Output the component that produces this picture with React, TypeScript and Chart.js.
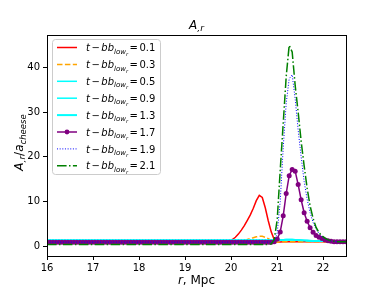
import React, { useEffect, useRef } from "react";
import { Chart, registerables } from "chart.js";

Chart.register(...registerables);

// r grid, Mpc
const rValues = [
  16.0, 16.065, 16.13, 16.195, 16.26, 16.325, 16.39, 16.455, 16.52, 16.585,
  16.65, 16.715, 16.78, 16.845, 16.91, 16.975, 17.04, 17.105, 17.17, 17.235,
  17.3, 17.365, 17.43, 17.495, 17.56, 17.625, 17.69, 17.755, 17.82, 17.885,
  17.95, 18.015, 18.08, 18.145, 18.21, 18.275, 18.34, 18.405, 18.47, 18.535,
  18.6, 18.665, 18.73, 18.795, 18.86, 18.925, 18.99, 19.055, 19.12, 19.185,
  19.25, 19.315, 19.38, 19.445, 19.51, 19.575, 19.64, 19.705, 19.77, 19.835,
  19.9, 19.965, 20.03, 20.095, 20.16, 20.225, 20.29, 20.355, 20.42, 20.485,
  20.55, 20.615, 20.68, 20.745, 20.81, 20.875, 20.94, 21.005, 21.07, 21.135,
  21.2, 21.265, 21.33, 21.395, 21.46, 21.525, 21.59, 21.655, 21.72, 21.785,
  21.85, 21.915, 21.98, 22.045, 22.11, 22.175, 22.24, 22.305, 22.37, 22.435,
  22.5,
];

const yT01 = [
  0.9, 0.9, 0.9, 0.9, 0.9, 0.9, 0.9, 0.9, 0.9, 0.9,
  0.9, 0.9, 0.9, 0.9, 0.9, 0.9, 0.9, 0.9, 0.9, 0.9,
  0.9, 0.9, 0.9, 0.9, 0.9, 0.9, 0.9, 0.9, 0.9, 0.9,
  0.9, 0.9, 0.9, 0.9, 0.9, 0.9, 0.9, 0.9, 0.9, 0.9,
  0.9, 0.9, 0.9, 0.9, 0.9, 0.9, 0.9, 0.9, 0.9, 0.9,
  0.9, 0.9, 0.9, 0.9, 0.9, 0.9, 0.9, 0.9, 0.9, 0.9,
  1.05, 1.2, 1.5, 2.0, 2.7, 3.6, 4.6, 5.8, 7.0, 8.5,
  10.2, 11.4, 10.9, 8.6, 5.7, 3.2, 1.5, 0.9, 0.95, 1.0,
  1.0, 1.0, 1.0, 1.0, 1.0, 1.0, 1.0, 1.0, 1.0, 1.0,
  1.0, 1.0, 1.0, 1.0, 1.0, 1.0, 1.0, 1.0, 1.0, 1.0,
  1.0,
];

const yT03 = [
  0.9, 0.9, 0.9, 0.9, 0.9, 0.9, 0.9, 0.9, 0.9, 0.9,
  0.9, 0.9, 0.9, 0.9, 0.9, 0.9, 0.9, 0.9, 0.9, 0.9,
  0.9, 0.9, 0.9, 0.9, 0.9, 0.9, 0.9, 0.9, 0.9, 0.9,
  0.9, 0.9, 0.9, 0.9, 0.9, 0.9, 0.9, 0.9, 0.9, 0.9,
  0.9, 0.9, 0.9, 0.9, 0.9, 0.9, 0.9, 0.9, 0.9, 0.9,
  0.9, 0.9, 0.9, 0.9, 0.9, 0.9, 0.9, 0.9, 0.9, 0.9,
  0.9, 0.9, 0.95, 1.0, 1.05, 1.15, 1.3, 1.5, 1.7, 1.9,
  2.1, 2.2, 2.2, 2.0, 1.7, 1.3, 1.0, 0.9, 0.95, 1.0,
  1.0, 1.0, 1.0, 1.0, 1.0, 1.0, 1.0, 1.0, 1.0, 1.0,
  1.0, 1.0, 1.0, 1.0, 1.0, 1.0, 1.0, 1.0, 1.0, 1.0,
  1.0,
];

const yT05 = [
  1.3, 1.3, 1.3, 1.3, 1.3, 1.3, 1.3, 1.3, 1.3, 1.3,
  1.3, 1.3, 1.3, 1.3, 1.3, 1.3, 1.3, 1.3, 1.3, 1.3,
  1.3, 1.3, 1.3, 1.3, 1.3, 1.3, 1.3, 1.3, 1.3, 1.3,
  1.3, 1.3, 1.3, 1.3, 1.3, 1.3, 1.3, 1.3, 1.3, 1.3,
  1.3, 1.3, 1.3, 1.3, 1.3, 1.3, 1.3, 1.3, 1.3, 1.3,
  1.3, 1.3, 1.3, 1.3, 1.3, 1.3, 1.3, 1.3, 1.3, 1.3,
  1.3, 1.3, 1.3, 1.3, 1.3, 1.3, 1.3, 1.3, 1.3, 1.3,
  1.3, 1.3, 1.3, 1.3, 1.3, 1.3, 1.3, 1.35, 1.4, 1.45,
  1.5, 1.5, 1.5, 1.45, 1.4, 1.35, 1.3, 1.25, 1.2, 1.15,
  1.15, 1.15, 1.15, 1.15, 1.15, 1.15, 1.15, 1.15, 1.15, 1.15,
  1.15,
];

const yT09 = [
  1.25, 1.25, 1.25, 1.25, 1.25, 1.25, 1.25, 1.25, 1.25, 1.25,
  1.25, 1.25, 1.25, 1.25, 1.25, 1.25, 1.25, 1.25, 1.25, 1.25,
  1.25, 1.25, 1.25, 1.25, 1.25, 1.25, 1.25, 1.25, 1.25, 1.25,
  1.25, 1.25, 1.25, 1.25, 1.25, 1.25, 1.25, 1.25, 1.25, 1.25,
  1.25, 1.25, 1.25, 1.25, 1.25, 1.25, 1.25, 1.25, 1.25, 1.25,
  1.25, 1.25, 1.25, 1.25, 1.25, 1.25, 1.25, 1.25, 1.25, 1.25,
  1.25, 1.25, 1.25, 1.25, 1.25, 1.25, 1.25, 1.25, 1.25, 1.25,
  1.25, 1.25, 1.25, 1.25, 1.25, 1.25, 1.25, 1.3, 1.35, 1.4,
  1.45, 1.45, 1.45, 1.4, 1.35, 1.3, 1.25, 1.2, 1.15, 1.1,
  1.1, 1.1, 1.1, 1.1, 1.1, 1.1, 1.1, 1.1, 1.1, 1.1,
  1.1,
];

const yT13 = [
  1.3, 1.3, 1.3, 1.3, 1.3, 1.3, 1.3, 1.3, 1.3, 1.3,
  1.3, 1.3, 1.3, 1.3, 1.3, 1.3, 1.3, 1.3, 1.3, 1.3,
  1.3, 1.3, 1.3, 1.3, 1.3, 1.3, 1.3, 1.3, 1.3, 1.3,
  1.3, 1.3, 1.3, 1.3, 1.3, 1.3, 1.3, 1.3, 1.3, 1.3,
  1.3, 1.3, 1.3, 1.3, 1.3, 1.3, 1.3, 1.3, 1.3, 1.3,
  1.3, 1.3, 1.3, 1.3, 1.3, 1.3, 1.3, 1.3, 1.3, 1.3,
  1.3, 1.3, 1.3, 1.3, 1.3, 1.3, 1.3, 1.3, 1.3, 1.3,
  1.3, 1.3, 1.3, 1.3, 1.3, 1.3, 1.3, 1.35, 1.4, 1.4,
  1.45, 1.45, 1.45, 1.4, 1.4, 1.35, 1.3, 1.25, 1.2, 1.15,
  1.15, 1.15, 1.15, 1.15, 1.15, 1.15, 1.15, 1.15, 1.15, 1.15,
  1.15,
];

const yT17 = [
  0.9, 0.9, 0.9, 0.9, 0.9, 0.9, 0.9, 0.9, 0.9, 0.9,
  0.9, 0.9, 0.9, 0.9, 0.9, 0.9, 0.9, 0.9, 0.9, 0.9,
  0.9, 0.9, 0.9, 0.9, 0.9, 0.9, 0.9, 0.9, 0.9, 0.9,
  0.9, 0.9, 0.9, 0.9, 0.9, 0.9, 0.9, 0.9, 0.9, 0.9,
  0.9, 0.9, 0.9, 0.9, 0.9, 0.9, 0.9, 0.9, 0.9, 0.9,
  0.9, 0.9, 0.9, 0.9, 0.9, 0.9, 0.9, 0.9, 0.9, 0.9,
  0.9, 0.9, 0.9, 0.9, 0.9, 0.9, 0.9, 0.9, 0.9, 0.9,
  0.9, 0.9, 0.9, 0.9, 0.9, 0.9, 1.0, 1.6, 3.2, 6.8,
  11.8, 15.8, 17.2, 16.8, 13.8, 10.4, 7.5, 5.6, 4.1, 3.1,
  2.4, 2.0, 1.7, 1.4, 1.2, 1.1, 1.0, 1.0, 1.0, 1.0,
  1.0,
];

const yT19 = [
  0.9, 0.9, 0.9, 0.9, 0.9, 0.9, 0.9, 0.9, 0.9, 0.9,
  0.9, 0.9, 0.9, 0.9, 0.9, 0.9, 0.9, 0.9, 0.9, 0.9,
  0.9, 0.9, 0.9, 0.9, 0.9, 0.9, 0.9, 0.9, 0.9, 0.9,
  0.9, 0.9, 0.9, 0.9, 0.9, 0.9, 0.9, 0.9, 0.9, 0.9,
  0.9, 0.9, 0.9, 0.9, 0.9, 0.9, 0.9, 0.9, 0.9, 0.9,
  0.9, 0.9, 0.9, 0.9, 0.9, 0.9, 0.9, 0.9, 0.9, 0.9,
  0.9, 0.9, 0.9, 0.9, 0.9, 0.9, 0.9, 0.9, 0.9, 0.9,
  0.9, 0.9, 0.9, 0.9, 0.9, 0.9, 0.95, 3.0, 10.0, 22.0,
  32.0, 37.5, 38.4, 33.0, 26.0, 20.0, 14.5, 10.5, 7.5, 5.3,
  3.8, 2.8, 2.1, 1.6, 1.3, 1.15, 1.05, 1.0, 1.0, 1.0,
  1.0,
];

const yT21 = [
  0.35, 0.35, 0.35, 0.35, 0.35, 0.35, 0.35, 0.35, 0.35, 0.35,
  0.35, 0.35, 0.35, 0.35, 0.35, 0.35, 0.35, 0.35, 0.35, 0.35,
  0.35, 0.35, 0.35, 0.35, 0.35, 0.35, 0.35, 0.35, 0.35, 0.35,
  0.35, 0.35, 0.35, 0.35, 0.35, 0.35, 0.35, 0.35, 0.35, 0.35,
  0.35, 0.35, 0.35, 0.35, 0.35, 0.35, 0.35, 0.35, 0.35, 0.35,
  0.35, 0.35, 0.35, 0.35, 0.35, 0.35, 0.35, 0.35, 0.35, 0.35,
  0.35, 0.35, 0.35, 0.35, 0.35, 0.35, 0.35, 0.35, 0.35, 0.35,
  0.35, 0.35, 0.35, 0.35, 0.35, 0.5, 1.5, 6.0, 17.0, 27.5,
  38.0, 45.0, 43.5, 36.0, 30.0, 23.5, 18.0, 13.0, 9.0, 6.2,
  4.2, 3.0, 2.3, 1.8, 1.4, 1.2, 1.1, 1.0, 1.0, 1.0,
  1.0,
];

const seriesValues = [yT01, yT03, yT05, yT09, yT13, yT17, yT19, yT21];
const legendValues = ["0.1", "0.3", "0.5", "0.9", "1.3", "1.7", "1.9", "2.1"];
const xTicks = [16, 17, 18, 19, 20, 21, 22];
const yTicks = [0, 10, 20, 30, 40];

// styles (kept apart from data)
const seriesStyles = [
  { color: "#ff0000", width: 1.5, dash: [] as number[], marker: false },
  { color: "#ffa500", width: 1.5, dash: [5.5, 2.4], marker: false },
  { color: "#00ffff", width: 1.5, dash: [], marker: false },
  { color: "#00ffff", width: 1.5, dash: [], marker: false },
  { color: "#00ffff", width: 2, dash: [], marker: false },
  { color: "#800080", width: 1.5, dash: [], marker: true },
  { color: "#0000ff", width: 1, dash: [1, 1.65], marker: false },
  { color: "#008000", width: 1.5, dash: [9.6, 2.4, 1.5, 2.4], marker: false },
];

const FONT = "'DejaVu Sans', sans-serif";

type Run = { t: string; size: number; italic?: boolean; dy?: number; gap?: number };

function runsWidth(ctx: CanvasRenderingContext2D, runs: Run[]) {
  let w = 0;
  for (const r of runs) {
    ctx.font = `${r.italic ? "italic " : ""}${r.size}px ${FONT}`;
    w += ctx.measureText(r.t).width + (r.gap || 0);
  }
  return w;
}

function drawRuns(ctx: CanvasRenderingContext2D, runs: Run[], x: number, y: number, center: boolean) {
  let cx = center ? x - runsWidth(ctx, runs) / 2 : x;
  ctx.textAlign = "left";
  ctx.textBaseline = "alphabetic";
  for (const r of runs) {
    ctx.font = `${r.italic ? "italic " : ""}${r.size}px ${FONT}`;
    ctx.fillText(r.t, cx, y + (r.dy || 0));
    cx += ctx.measureText(r.t).width + (r.gap || 0);
  }
}

const decorPlugin = {
  id: "decor",
  afterDatasetsDraw(chart: any) {
    const ctx: CanvasRenderingContext2D = chart.ctx;
    const a = chart.chartArea;
    ctx.save();
    // frame
    ctx.strokeStyle = "#000";
    ctx.lineWidth = 1;
    ctx.setLineDash([]);
    ctx.strokeRect(Math.round(a.left) + 0.5, Math.round(a.top) + 0.5, Math.round(a.right - a.left), Math.round(a.bottom - a.top));

    // legend
    const lx = 52, ly = 39, lw = 108, lh = 135;
    ctx.fillStyle = "rgba(255,255,255,0.85)";
    ctx.strokeStyle = "#cccccc";
    ctx.lineWidth = 1;
    ctx.beginPath();
    (ctx as any).roundRect(lx + 0.5, ly + 0.5, lw, lh, 3);
    ctx.fill();
    ctx.stroke();
    for (let i = 0; i < legendValues.length; i++) {
      const st = seriesStyles[i];
      const yy = 47.5 + i * 16.9;
      ctx.strokeStyle = st.color;
      ctx.lineWidth = st.width;
      ctx.setLineDash(st.dash);
      ctx.beginPath();
      ctx.moveTo(57, yy);
      ctx.lineTo(77, yy);
      ctx.stroke();
      ctx.setLineDash([]);
      if (st.marker) {
        ctx.fillStyle = st.color;
        ctx.beginPath();
        ctx.arc(67, yy, 2.4, 0, Math.PI * 2);
        ctx.fill();
      }
      ctx.fillStyle = "#000";
      drawRuns(
        ctx,
        [
          { t: "t", size: 10, italic: true, gap: 1.5 },
          { t: "\u2212", size: 10, gap: 1.5 },
          { t: "bb", size: 10, italic: true },
          { t: "low", size: 7, italic: true, dy: 2.5 },
          { t: "r", size: 5, italic: true, dy: 4.5, gap: 1.5 },
          { t: "=", size: 10, gap: 1.5 },
          { t: legendValues[i], size: 10 },
        ],
        86,
        yy + 3.6,
        false
      );
    }

    // title
    ctx.fillStyle = "#000";
    const cxm = (a.left + a.right) / 2;
    drawRuns(
      ctx,
      [
        { t: "A", size: 12, italic: true },
        { t: ",r", size: 9, italic: true, dy: 2 },
      ],
      cxm,
      29,
      true
    );
    // x label
    drawRuns(
      ctx,
      [
        { t: "r", size: 12, italic: true },
        { t: ", Mpc", size: 12 },
      ],
      cxm,
      284,
      true
    );
    // y label
    ctx.save();
    ctx.translate(23, (a.top + a.bottom) / 2 - 3);
    ctx.rotate(-Math.PI / 2);
    drawRuns(
      ctx,
      [
        { t: "A", size: 12, italic: true },
        { t: ",r", size: 9, italic: true, dy: 2 },
        { t: "/", size: 12 },
        { t: "a", size: 12, italic: true },
        { t: "cheese", size: 8.5, italic: true, dy: 3 },
      ],
      0,
      0,
      true
    );
    ctx.restore();
    ctx.restore();
  },
};

export default function App() {
  const canvasRef = useRef<HTMLCanvasElement | null>(null);

  useEffect(() => {
    document.body.style.margin = "0";
    const canvas = canvasRef.current;
    if (!canvas) return;
    const datasets = seriesValues.map((vals, i) => {
      const st = seriesStyles[i];
      return {
        label: "t-bb_low_r = " + legendValues[i],
        data: rValues.map((x, k) => ({ x, y: vals[k] })),
        borderColor: st.color,
        backgroundColor: st.color,
        borderWidth: st.width,
        borderDash: st.dash,
        pointRadius: st.marker ? 2.5 : 0,
        pointBorderWidth: 0,
        pointBackgroundColor: st.color,
        tension: 0,
        fill: false,
        order: seriesValues.length - 1 - i,
      };
    });
    const chart = new Chart(canvas, {
      type: "line",
      data: { datasets },
      options: {
        animation: false,
        responsive: false,
        maintainAspectRatio: false,
        layout: { padding: { top: 35, right: 38, left: 0, bottom: 0 } },
        plugins: {
          legend: { display: false },
          title: { display: false },
          tooltip: { enabled: false },
        },
        scales: {
          x: {
            type: "linear",
            min: 16,
            max: 22.5,
            afterBuildTicks: (s: any) => {
              s.ticks = xTicks.map((v) => ({ value: v }));
            },
            afterFit: (s: any) => {
              s.height = 32;
            },
            ticks: {
              color: "#000",
              font: { family: FONT, size: 10 },
              padding: 2,
              maxRotation: 0,
              autoSkip: false,
            },
            grid: { display: true, drawOnChartArea: false, drawTicks: true, tickLength: 4, color: "#000", lineWidth: 1 },
            border: { display: true, color: "#000", width: 1 },
          },
          y: {
            type: "linear",
            min: -2.2,
            max: 47.3,
            afterBuildTicks: (s: any) => {
              s.ticks = yTicks.map((v) => ({ value: v }));
            },
            afterFit: (s: any) => {
              s.width = 47;
            },
            ticks: {
              color: "#000",
              font: { family: FONT, size: 10 },
              padding: 3,
              autoSkip: false,
            },
            grid: { display: true, drawOnChartArea: false, drawTicks: true, tickLength: 4, color: "#000", lineWidth: 1 },
            border: { display: true, color: "#000", width: 1 },
          },
        },
      },
      plugins: [decorPlugin],
    } as any);
    return () => chart.destroy();
  }, []);

  return (
    <div style={{ position: "fixed", left: 0, top: 0, width: 384, height: 288, background: "#fff" }}>
      <canvas ref={canvasRef} width={384} height={288} style={{ width: 384, height: 288, display: "block" }} />
    </div>
  );
}
